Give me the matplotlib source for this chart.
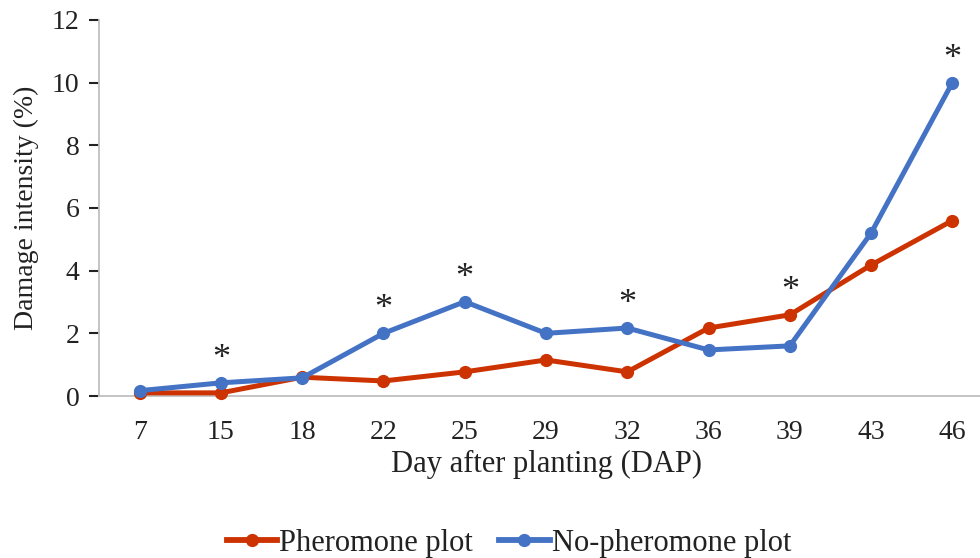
import numpy as np
import matplotlib
matplotlib.use('Agg')
import matplotlib.pyplot as plt

plt.rcParams['font.family'] = ['Liberation Serif', 'DejaVu Serif']

days = ['7', '15', '18', '22', '25', '29', '32', '36', '39', '43', '46']
pheromone = [0.1, 0.1, 0.6, 0.48, 0.77, 1.15, 0.77, 2.17, 2.59, 4.18, 5.6]
no_pheromone = [0.17, 0.42, 0.58, 2.0, 3.01, 2.0, 2.17, 1.47, 1.6, 5.2, 10.0]
# days where the difference between plots is significant
significant = ['15', '22', '25', '32', '39', '46']

red = '#CC3300'
blue = '#4472C4'

fig = plt.figure(figsize=(9.8, 5.58), dpi=100)
ax = fig.add_axes([99/980, 162/558, 894/980, 376/558])

x = np.arange(len(days))
ax.plot(x, pheromone, color=red, lw=3.6, marker='o', ms=8.5,
        label='Pheromone plot', clip_on=False, zorder=3)
ax.plot(x, no_pheromone, color=blue, lw=3.6, marker='o', ms=8.5,
        label='No-pheromone plot', clip_on=False, zorder=3)

for d in significant:
    i = days.index(d)
    top = max(pheromone[i], no_pheromone[i])
    ax.annotate('*', xy=(i, top), xytext=(0, 5), textcoords='offset points',
                ha='center', va='bottom', fontsize=26, color='#222222')

ax.set_xlim(-0.5, len(days) - 0.5)
ax.set_ylim(0, 12)
ax.set_yticks(np.arange(0, 13, 2))
ax.set_xticks(x)
ax.set_xticklabels(days)

ax.tick_params(axis='x', length=0, pad=17, labelsize=20, colors='#222222')
ax.tick_params(axis='y', length=7, width=1.5, pad=7, labelsize=20,
               colors='#222222')

for s in ['top', 'right']:
    ax.spines[s].set_visible(False)
ax.spines['left'].set_color('#BFBFBF')
ax.spines['bottom'].set_color('#BFBFBF')
ax.spines['left'].set_linewidth(1.3)
ax.spines['bottom'].set_linewidth(1.3)

ax.set_xlabel('Day after planting (DAP)', fontsize=22, color='#222222', labelpad=4)
ax.set_ylabel('Damage intensity (%)', fontsize=20, color='#222222', labelpad=9)

leg = fig.legend(loc='center', bbox_to_anchor=(509/980, 1 - 543/558), ncol=2,
                 frameon=False, fontsize=22, handlelength=1.65,
                 handletextpad=0.08, columnspacing=0.85, markerscale=1.0,
                 labelcolor='#222222')
for h in leg.legend_handles:
    h.set_linewidth(4.2)

fig.savefig('out.png', dpi=100)
